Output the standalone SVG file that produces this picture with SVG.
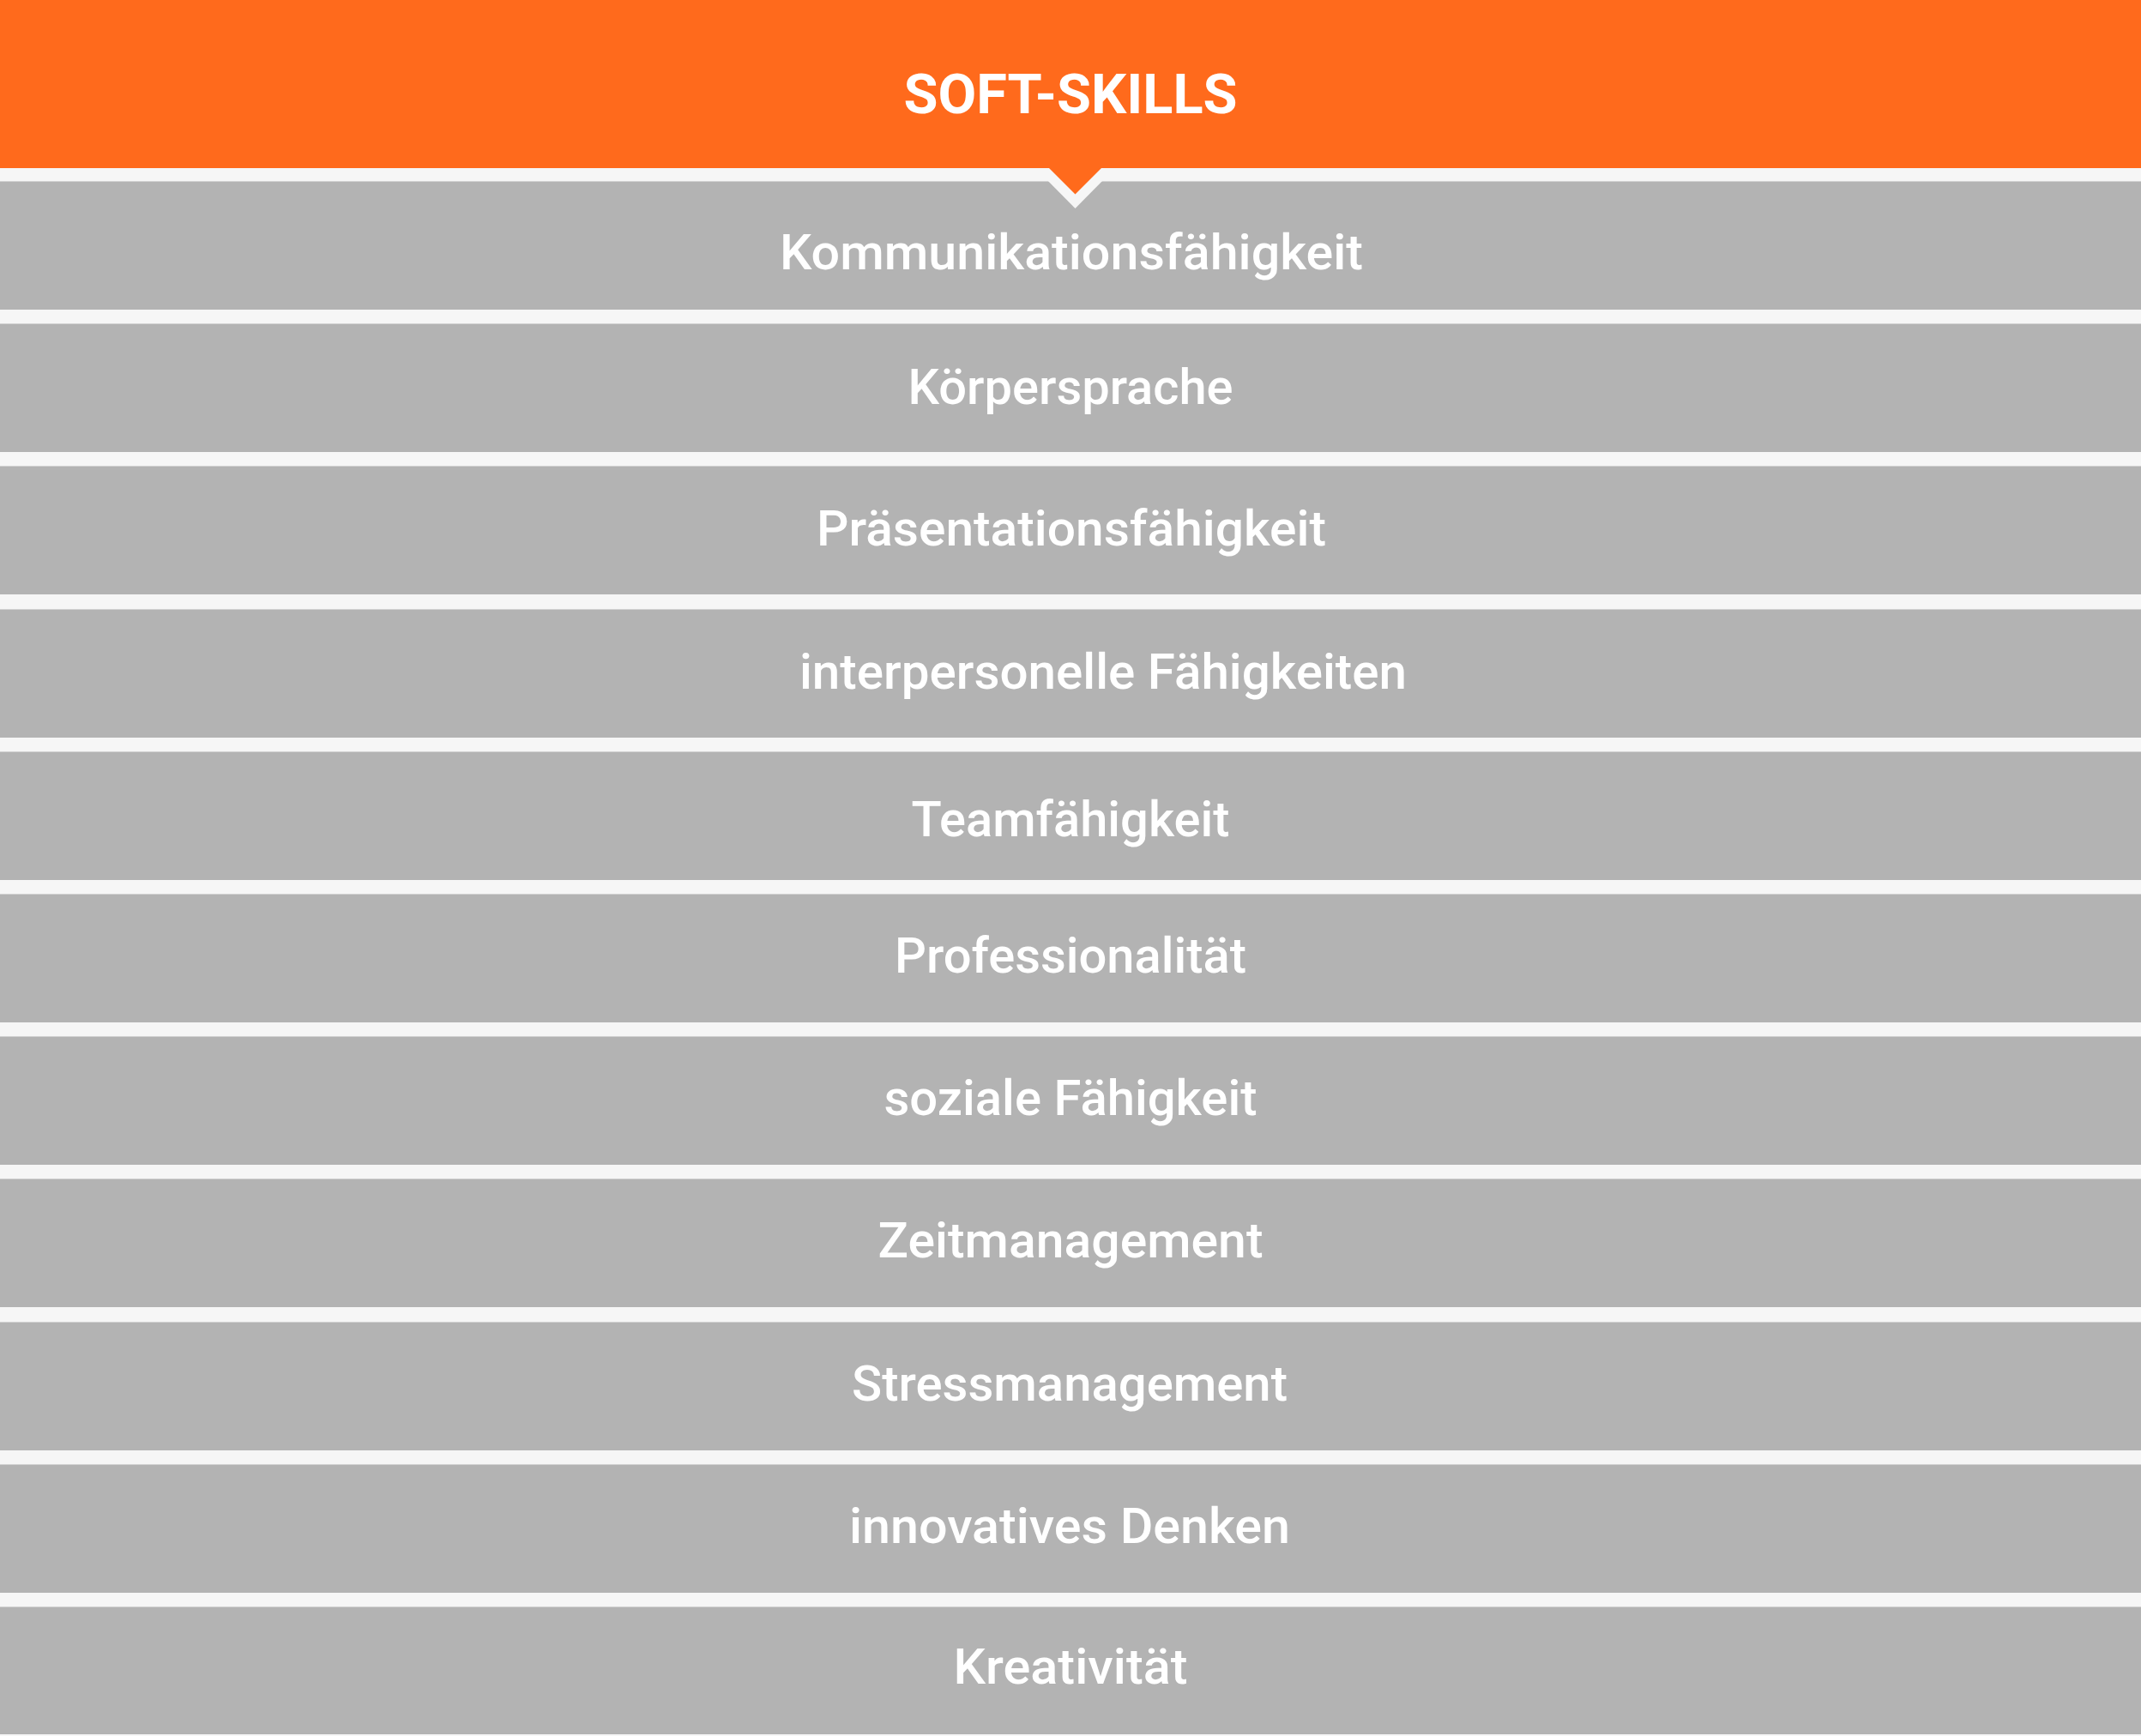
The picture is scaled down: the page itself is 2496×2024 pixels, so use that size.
<svg xmlns="http://www.w3.org/2000/svg" width="2496" height="2024" viewBox="0 0 2496 2024">
<style>
.band{fill:#b3b3b3}
.edge{fill:#d2d2d2}
.lbl{font-family:Roboto,"Liberation Sans",Arial,sans-serif;font-weight:500;font-size:57px;fill:#ffffff;text-anchor:middle}
.ttl{font-family:Roboto,"Liberation Sans",Arial,sans-serif;font-weight:700;font-size:65px;fill:#ffffff;text-anchor:middle}
</style>
<rect x="0" y="0" width="2496" height="2024" fill="#f6f6f6"/>
<g id="header">
<rect x="0" y="0" width="2496" height="196" fill="#ff6a1c"/>
<text class="ttl" x="1248" y="132" textLength="389" lengthAdjust="spacingAndGlyphs">SOFT-SKILLS</text>
</g>
<g id="n1"><rect class="band" x="0" y="212" width="2496" height="149"/><rect class="edge" x="0" y="211" width="2496" height="1"/><text class="lbl" x="1249" y="314" textLength="680" lengthAdjust="spacingAndGlyphs">Kommunikationsfähigkeit</text></g>
<g id="pointer">
<polygon points="1207,196 1300,196 1253.5,243" fill="#f6f6f6"/>
<polygon points="1223,196 1284,196 1253.5,226.5" fill="#ff6a1c"/>
</g>
<g id="n2"><rect class="edge" x="0" y="377" width="2496" height="1"/><rect class="band" x="0" y="378" width="2496" height="149"/><text class="lbl" x="1248" y="471" textLength="379" lengthAdjust="spacingAndGlyphs">Körpersprache</text></g>
<g id="n3"><rect class="edge" x="0" y="543" width="2496" height="1"/><rect class="band" x="0" y="544" width="2496" height="149"/><text class="lbl" x="1249" y="636" textLength="594" lengthAdjust="spacingAndGlyphs">Präsentationsfähigkeit</text></g>
<g id="n4"><rect class="edge" x="0" y="710" width="2496" height="1"/><rect class="band" x="0" y="711" width="2496" height="149"/><text class="lbl" x="1286" y="803" textLength="708" lengthAdjust="spacingAndGlyphs">interpersonelle Fähigkeiten</text></g>
<g id="n5"><rect class="edge" x="0" y="876" width="2496" height="1"/><rect class="band" x="0" y="877" width="2496" height="149"/><text class="lbl" x="1248" y="975" textLength="371" lengthAdjust="spacingAndGlyphs">Teamfähigkeit</text></g>
<g id="n6"><rect class="edge" x="0" y="1042" width="2496" height="1"/><rect class="band" x="0" y="1043" width="2496" height="149"/><text class="lbl" x="1248" y="1134" textLength="410" lengthAdjust="spacingAndGlyphs">Professionalität</text></g>
<g id="n7"><rect class="edge" x="0" y="1208" width="2496" height="1"/><rect class="band" x="0" y="1209" width="2496" height="149"/><text class="lbl" x="1248" y="1300" textLength="435" lengthAdjust="spacingAndGlyphs">soziale Fähigkeit</text></g>
<g id="n8"><rect class="edge" x="0" y="1374" width="2496" height="1"/><rect class="band" x="0" y="1375" width="2496" height="149"/><text class="lbl" x="1248" y="1466" textLength="449" lengthAdjust="spacingAndGlyphs">Zeitmanagement</text></g>
<g id="n9"><rect class="edge" x="0" y="1541" width="2496" height="1"/><rect class="band" x="0" y="1542" width="2496" height="149"/><text class="lbl" x="1247" y="1633" textLength="508" lengthAdjust="spacingAndGlyphs">Stressmanagement</text></g>
<g id="n10"><rect class="edge" x="0" y="1707" width="2496" height="1"/><rect class="band" x="0" y="1708" width="2496" height="149"/><text class="lbl" x="1247" y="1799" textLength="514" lengthAdjust="spacingAndGlyphs">innovatives Denken</text></g>
<g id="n11"><rect class="edge" x="0" y="1873" width="2496" height="1"/><rect class="band" x="0" y="1874" width="2496" height="148"/><text class="lbl" x="1248" y="1963" textLength="273" lengthAdjust="spacingAndGlyphs">Kreativität</text></g>
<g id="connectors"></g>
</svg>
